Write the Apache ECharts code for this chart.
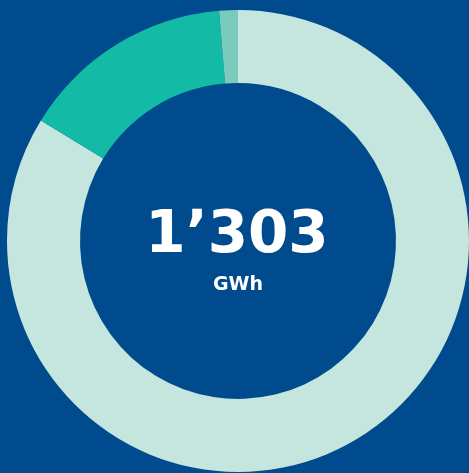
<!DOCTYPE html>
<html><head><meta charset="utf-8">
<script src="https://cdn.jsdelivr.net/npm/echarts@6/dist/echarts.min.js"></script>
<style>html,body{margin:0;padding:0;background:#004B8D;}#c{width:469px;height:473px;}</style>
</head><body><div id="c"></div>
<script>
const categories = ['A', 'B', 'C'];
const values = [1091, 195, 17];
const colors = ['#C5E6DF', '#13BBA6', '#7ACBBD'];
const totalLabel = '1’303';
const unitLabel = 'GWh';

const chart = echarts.init(document.getElementById('c'), null, {renderer: 'canvas'});
chart.setOption({
  backgroundColor: '#004B8D',
  animation: false,
  series: [{
    type: 'pie',
    center: [238, 241],
    radius: [158, 231],
    startAngle: 90,
    clockwise: true,
    label: {show: false},
    labelLine: {show: false},
    emphasis: {disabled: true},
    itemStyle: {borderWidth: 0},
    data: categories.map((c, i) => ({name: c, value: values[i], itemStyle: {color: colors[i]}}))
  }],
  graphic: [
    {type: 'text', x: 237, y: 237, style: {text: totalLabel, fill: '#fff', font: 'bold 58px "DejaVu Sans"', align: 'center', verticalAlign: 'middle'}},
    {type: 'text', x: 238, y: 285, style: {text: unitLabel, fill: '#fff', font: 'bold 19px "DejaVu Sans"', align: 'center', verticalAlign: 'middle'}}
  ]
});
</script></body></html>
